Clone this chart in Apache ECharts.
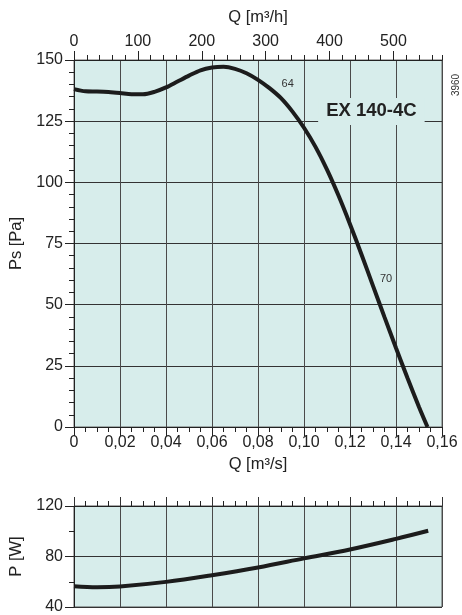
<!DOCTYPE html>
<html>
<head>
<meta charset="utf-8">
<script src="https://cdn.jsdelivr.net/npm/echarts@6/dist/echarts.min.js"></script>
<style>
html,body{margin:0;padding:0;background:#fff;}
#c{width:462px;height:615px;}
</style>
</head>
<body>
<div id="c"></div>
<script>
// Static pressure curve Ps [Pa] vs Q [m3/s]
var qPs = [0, 0.005, 0.01, 0.015, 0.02, 0.025, 0.03, 0.035, 0.04, 0.045, 0.05, 0.055, 0.06, 0.065, 0.07, 0.075, 0.08, 0.085, 0.09, 0.095, 0.10, 0.105, 0.11, 0.115, 0.12, 0.125, 0.13, 0.135, 0.14, 0.145, 0.15, 0.1537];
var ps  = [138.1, 137.2, 137.1, 136.9, 136.5, 136.0, 136.0, 137.0, 138.8, 141.2, 143.6, 145.8, 146.9, 147.2, 146.4, 144.6, 141.9, 138.5, 134.4, 128.9, 122.3, 114.5, 105.2, 94.6, 82.9, 70.5, 57.7, 44.9, 32.3, 20.0, 8.2, 0];
// Power curve P [W] vs Q [m3/s]
var qP = [0, 0.01, 0.02, 0.04, 0.06, 0.08, 0.10, 0.12, 0.14, 0.154];
var pW = [56.5, 55.7, 56.3, 59.9, 65.2, 71.3, 78.5, 85.6, 94, 100.4];
// Axis settings
var qMax = 0.16, qStep = 0.02;
var qhMax = 576, qhStep = 100, qhMinor = 20;
var psMin = 0, psMax = 150, psStep = 25;
var pMin = 40, pMax = 120, pStep = 40;
var modelLabel = 'EX 140-4C';
var curveLabels = [{t:'64', q:0.0929, v:140}, {t:'70', q:0.1357, v:60.5}];
var codeLabel = '3960';

function pair(xs, ys){ return xs.map(function(x,i){return [x, ys[i]];}); }

var FONT = 'Liberation Sans, Arial, sans-serif';
var TXT = '#222';
var BG = '#d7edeb';

var chart = echarts.init(document.getElementById('c'), null, {renderer:'canvas'});

var tickLab = {color:TXT, fontSize:16, fontFamily:FONT};
var nameSt = {color:TXT, fontSize:16.5, fontFamily:FONT};
var opt = {
  animation:false,
  textStyle:{fontFamily:FONT},
  grid:[
    {left:74, top:60, width:368, height:367, show:true, backgroundColor:BG, borderColor:'#666', borderWidth:1},
    {left:74, top:506, width:368, height:101, show:true, backgroundColor:BG, borderColor:'#555', borderWidth:1}
  ],
  xAxis:[
    {type:'value', gridIndex:0, position:'bottom', min:0, max:qMax, interval:qStep,
     axisLine:{show:true, lineStyle:{color:'#222', width:1}},
     axisTick:{show:true, length:9, lineStyle:{color:'#222'}},
     minorTick:{show:true, splitNumber:4, length:5, lineStyle:{color:'#222'}},
     splitLine:{show:true, lineStyle:{color:'#4a4a4a', width:1}},
     axisLabel:Object.assign({margin:8, formatter:function(v){return v===0?'0':v.toFixed(2).replace('.',',');}}, tickLab),
     name:'Q [m³/s]', nameLocation:'middle', nameGap:29, nameTextStyle:nameSt},
    {type:'value', gridIndex:0, position:'top', min:0, max:qhMax, interval:qhMinor,
     axisLine:{show:true, lineStyle:{color:'#222'}},
     axisTick:{show:true, length:5, lineStyle:{color:'#222'}},
     splitLine:{show:false}, axisLabel:{show:false}},
    {type:'value', gridIndex:0, position:'top', min:0, max:qhMax, interval:qhStep,
     axisLine:{show:false},
     axisTick:{show:true, length:9, lineStyle:{color:'#222'}},
     splitLine:{show:false},
     axisLabel:Object.assign({margin:10, showMaxLabel:false, formatter:function(v){return (v%100===0)?String(v):'';}}, tickLab),
     name:'Q [m³/h]', nameLocation:'middle', nameGap:34, nameTextStyle:nameSt},
    {type:'value', gridIndex:1, position:'top', min:0, max:qMax, interval:qStep,
     axisLine:{show:true, lineStyle:{color:'#222'}},
     axisTick:{show:true, length:9, lineStyle:{color:'#333'}},
     minorTick:{show:true, splitNumber:4, length:5, lineStyle:{color:'#222'}},
     splitLine:{show:true, lineStyle:{color:'#4a4a4a', width:1}},
     axisLabel:{show:false}}
  ],
  yAxis:[
    {type:'value', gridIndex:0, min:psMin, max:psMax, interval:psStep,
     axisLine:{show:true, lineStyle:{color:'#222'}},
     axisTick:{show:true, length:9, lineStyle:{color:'#222'}},
     minorTick:{show:true, splitNumber:5, length:5, lineStyle:{color:'#222'}},
     splitLine:{show:true, lineStyle:{color:'#333', width:1}},
     axisLabel:Object.assign({margin:11}, tickLab),
     name:'Ps [Pa]', nameLocation:'middle', nameGap:47, nameTextStyle:nameSt},
    {type:'value', gridIndex:1, min:pMin, max:pMax, interval:pStep,
     axisLine:{show:true, lineStyle:{color:'#222'}},
     axisTick:{show:true, length:9, lineStyle:{color:'#222'}},
     minorTick:{show:true, splitNumber:2, length:5, lineStyle:{color:'#222'}},
     splitLine:{show:true, lineStyle:{color:'#333', width:1}},
     axisLabel:Object.assign({margin:11}, tickLab),
     name:'P [W]', nameLocation:'middle', nameGap:47, nameTextStyle:nameSt}
  ],
  series:[
    {type:'line', xAxisIndex:0, yAxisIndex:0, data:pair(qPs, ps), smooth:0.3, symbol:'none',
     lineStyle:{color:'#1c1c1c', width:4}, z:5},
    {type:'line', xAxisIndex:3, yAxisIndex:1, data:pair(qP, pW), smooth:0.35, symbol:'none',
     lineStyle:{color:'#1c1c1c', width:4}, z:5}
  ]
};
chart.setOption(opt);

// Text annotations positioned through the chart's own scales
function toPx(q, v){ return chart.convertToPixel({xAxisIndex:0, yAxisIndex:0}, [q, v]); }
var g = [];
curveLabels.forEach(function(l){
  var p = toPx(l.q, l.v);
  g.push({type:'text', x:p[0], y:p[1], z:100, style:{text:l.t, fill:'#333', fontSize:11, fontFamily:FONT, align:'center', verticalAlign:'middle'}});
});
var mp = toPx(0.1293, 129.0);
g.push({type:'text', x:mp[0], y:mp[1], z:100, style:{text:modelLabel, fill:'#222', fontSize:18.5, fontWeight:'bold', fontFamily:FONT, align:'center', verticalAlign:'middle', backgroundColor:BG, padding:[4,8,4,8]}});
g.push({type:'text', x:456, y:85, rotation:Math.PI/2, z:100, style:{text:codeLabel, fill:'#333', fontSize:10, fontFamily:FONT, align:'center', verticalAlign:'middle'}});
chart.setOption({graphic:g});
</script>
</body>
</html>
